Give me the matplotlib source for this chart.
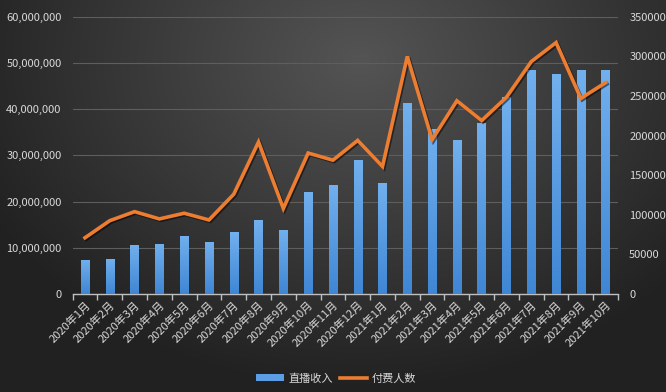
import numpy as np
import matplotlib
matplotlib.use("Agg")
import matplotlib.pyplot as plt
from matplotlib.ticker import FuncFormatter, MultipleLocator, FixedLocator
import matplotlib.patheffects as pe
from matplotlib.lines import Line2D
from matplotlib.patches import Patch

plt.rcParams['font.family'] = ['Noto Sans CJK SC', 'DejaVu Sans']

months = ["2020年1月", "2020年2月", "2020年3月", "2020年4月", "2020年5月", "2020年6月",
          "2020年7月", "2020年8月", "2020年9月", "2020年10月", "2020年11月", "2020年12月",
          "2021年1月", "2021年2月", "2021年3月", "2021年4月", "2021年5月", "2021年6月",
          "2021年7月", "2021年8月", "2021年9月", "2021年10月"]
revenue = [7.4e6, 7.6e6, 10.7e6, 10.9e6, 12.6e6, 11.3e6, 13.4e6, 16.0e6, 13.9e6, 22.1e6,
           23.6e6, 29.1e6, 24.1e6, 41.4e6, 35.7e6, 33.4e6, 37.0e6, 42.7e6, 48.4e6, 47.6e6,
           48.4e6, 48.6e6]
payers = [71000, 92600, 104000, 94800, 102000, 93500, 126000, 192000, 108000, 178000,
          169000, 194000, 161000, 300000, 195000, 244000, 219000, 248500, 293500, 317500,
          247000, 267000]
rev_label = "直播收入"
pay_label = "付费人数"

fig = plt.figure(figsize=(6.66, 3.92), dpi=100)

# background gradient
bg = fig.add_axes([0, 0, 1, 1], zorder=-10)
yy, xx = np.mgrid[0:392, 0:666]
d = np.sqrt(((xx - 360) / 420.0) ** 2 + ((yy - 60) / 330.0) ** 2)
v = np.clip(0.33 - 0.2 * d, 0.13, 0.33)
bg.imshow(np.dstack([v, v, v]), aspect='auto', extent=[0, 1, 0, 1])
bg.axis('off')

ax = fig.add_axes([0.109, 0.25, 0.819, 0.707])
ax.patch.set_alpha(0)
x = np.arange(len(months))
bars = ax.bar(x, revenue, width=0.34, color='#5b9ee6', zorder=3)

# gradient on bars
grad = np.linspace(0, 1, 100).reshape(-1, 1)
from matplotlib.colors import LinearSegmentedColormap
cmap = LinearSegmentedColormap.from_list('b', ['#3f86d4', '#72b0ee'])
for b in bars:
    im = ax.imshow(grad, cmap=cmap, aspect='auto', origin='lower',
                   extent=[b.get_x(), b.get_x() + b.get_width(), 0, b.get_height()], zorder=3)
    im.set_clip_path(b)

ax.set_xlim(-0.5, len(months) - 0.5)
ax.set_ylim(0, 60e6)
ax.yaxis.set_major_locator(MultipleLocator(10e6))
ax.yaxis.set_major_formatter(FuncFormatter(lambda v, p: f"{int(v):,}"))
ax.grid(axis='y', color='#5e5e5e', linewidth=0.8, zorder=0)
ax.set_axisbelow(True)
for s in ['top', 'right', 'left']:
    ax.spines[s].set_visible(False)
ax.spines['bottom'].set_color('#bfbfbf')
ax.spines['bottom'].set_linewidth(1.0)
ax.tick_params(axis='y', length=0, labelcolor='#d9d9d9', labelsize=8, pad=8)
ax.set_xticks(x)
ax.set_xticklabels(months, rotation=45, ha='right', rotation_mode='anchor',
                   color='#d9d9d9', fontsize=8)
ax.tick_params(axis='x', length=0, pad=4)
ax.xaxis.set_minor_locator(FixedLocator(np.arange(-0.5, len(months), 1)))
ax.tick_params(axis='x', which='minor', length=4, color='#bfbfbf', width=1)

ax2 = ax.twinx()
ax2.set_ylim(0, 350000)
ax2.yaxis.set_major_locator(MultipleLocator(50000))
ax2.yaxis.set_major_formatter(FuncFormatter(lambda v, p: f"{int(v)}"))
for s in ax2.spines.values():
    s.set_visible(False)
ax2.tick_params(axis='y', length=0, labelcolor='#d9d9d9', labelsize=8, pad=8)
ax2.plot(x, payers, color='#ed7d31', linewidth=2.6, zorder=5, solid_joinstyle='miter',
         path_effects=[pe.SimpleLineShadow(offset=(1, -1), shadow_color='black', alpha=0.5),
                       pe.Normal()])

handles = [Patch(facecolor='#5b9ee6', edgecolor='none'),
           Line2D([0], [0], color='#ed7d31', linewidth=2.6)]
leg = fig.legend(handles, [rev_label, pay_label], loc='center', bbox_to_anchor=(0.505, 0.035),
                 ncol=2, frameon=False, fontsize=8, labelcolor='#d9d9d9',
                 handlelength=2.5, handleheight=0.6, columnspacing=0.6, handletextpad=0.4)

fig.savefig('out.png', dpi=100)
